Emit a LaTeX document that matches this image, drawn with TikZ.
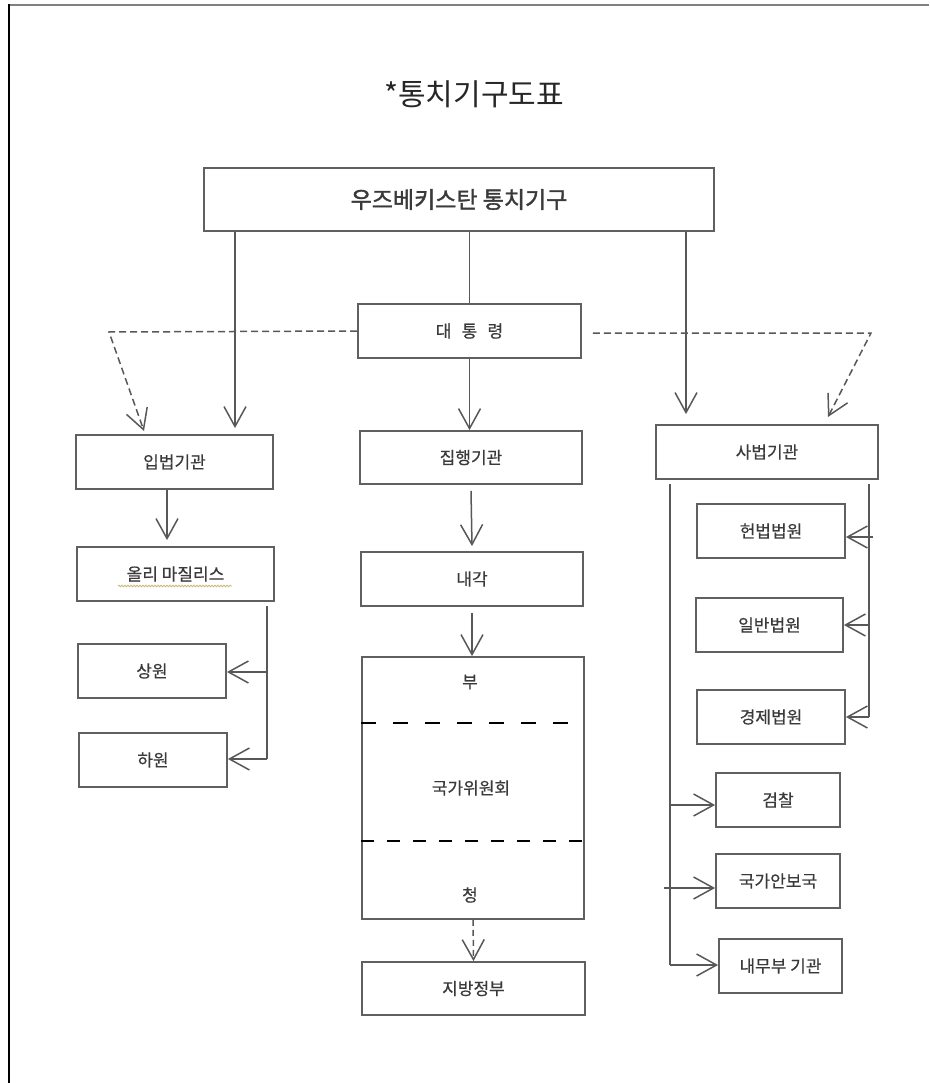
\documentclass[tikz,border=0pt]{standalone}
\usepackage{fontspec}
\setmainfont{Noto Sans CJK KR}
\newfontfamily\krbold[FakeBold=1.6]{Noto Sans CJK KR}
\newfontfamily\krbody[FakeBold=0.5]{Noto Sans CJK KR}
\newfontfamily\krtitle{Noto Sans CJK KR}
\usetikzlibrary{arrows.meta,decorations.pathmorphing}
\definecolor{boxgray}{HTML}{606060}
\definecolor{linegray}{HTML}{585858}
\definecolor{txtgray}{HTML}{3A3A3A}
\definecolor{framegray}{HTML}{808080}
\definecolor{squiggle}{HTML}{C9B878}
\tikzset{
  box/.style={draw=boxgray, line width=1.8pt, fill=white, inner sep=0pt,
    font=\krbody\fontsize{17}{19}\selectfont, text=txtgray},
  lbl/.style={inner sep=0pt, font=\krbody\fontsize{17}{19}\selectfont, text=txtgray},
  conn/.style={draw=linegray, line width=1.5pt},
  arr/.style={conn, -{Straight Barb[length=20pt,width=22pt]}},
  darr/.style={arr, dash pattern=on 7pt off 4pt},
  innerdash/.style={draw=black, line width=1.4pt, dash pattern=on 15pt off 17pt},
}
\begin{document}
\begin{tikzpicture}[x=1pt,y=-1pt]
\useasboundingbox (0,0) rectangle (929,1083);
% frame
\draw[framegray, line width=2pt] (9,5) -- (929,5);
\draw[black, line width=1.5pt] (9,4) -- (9,1083);
% title
\node[inner sep=0pt, font=\krtitle\fontsize{30}{33}\selectfont, text=black!85] (title) at (474,94) {*통치기구도표};
% boxes
\node[box, minimum width=510, minimum height=63, font=\krbold\fontsize{23}{25}\selectfont] (top) at (459,199.5) {우즈베키스탄 통치기구};
\node[box, minimum width=223, minimum height=54] (pres) at (469.5,331) {대\hspace{0.6em}통\hspace{0.6em}령};
\node[box, minimum width=197, minimum height=54] (leg) at (174.5,462) {입법기관};
\node[box, minimum width=222, minimum height=53] (exe) at (471,457.5) {집행기관};
\node[box, minimum width=222, minimum height=54] (jud) at (767,452) {사법기관};
\node[box, minimum width=197, minimum height=54] (olij) at (175.5,574) {올리 마질리스};
\node[box, minimum width=148, minimum height=54] (sen) at (152,671) {상원};
\node[box, minimum width=148, minimum height=54] (low) at (153,760) {하원};
\node[box, minimum width=222, minimum height=54] (cab) at (472,579) {내각};
\node[box, minimum width=222, minimum height=262] (big) at (473,788) {};
\node[lbl] (bu) at (470,682) {부};
\node[lbl] (comm) at (471,788) {국가위원회};
\node[lbl] (cheong) at (470,895) {청};
\node[box, minimum width=223, minimum height=53] (loc) at (473.5,988.5) {지방정부};
\node[box, minimum width=148, minimum height=54] (const) at (771,531) {헌법법원};
\node[box, minimum width=147, minimum height=54] (gen) at (769.5,625) {일반법원};
\node[box, minimum width=148, minimum height=54] (econ) at (771,717) {경제법원};
\node[box, minimum width=124, minimum height=54] (pros) at (778,800) {검찰};
\node[box, minimum width=124, minimum height=54] (sec) at (778,881) {국가안보국};
\node[box, minimum width=123, minimum height=54] (inter) at (780.5,966) {내무부 기관};
% spell-check squiggle under 올리 마질리스
\coordinate (sqA) at (118,586);
\coordinate (sqB) at (232,586);
\draw[squiggle, line width=0.8pt, decorate, decoration={snake, amplitude=0.8pt, segment length=3pt}] (sqA) -- (sqB);
% inner dashed separators of the big box
\coordinate (d1) at (0,723);
\coordinate (d2) at (0,841);
\draw[innerdash] (big.west |- d1) -- (big.east |- d1);
\draw[innerdash, dash pattern=on 13pt off 13pt] (big.west |- d2) -- (big.east |- d2);
% helper columns
\coordinate (xL) at (235,0);
\coordinate (xR) at (686,0);
\coordinate (xO) at (167,0);
\coordinate (vL) at (267,0);
\coordinate (jL) at (670,0);
\coordinate (jR) at (869,0);
% top box connectors
\draw[arr] (top.south -| xL) -- ([yshift=6pt]leg.north -| xL);
\draw[conn] (top.south -| pres.north) -- (pres.north);
\draw[arr] (top.south -| xR) -- ([yshift=10pt]jud.north -| xR);
% president
\draw[arr] (pres.south) -- (pres.south |- exe.north);
\coordinate (cL) at (109,332);
\coordinate (tL) at (144,431);
\coordinate (cR) at (871,333);
\coordinate (tR) at (828,417);
\draw[darr] (pres.west) -- (cL) -- (tL);
\draw[darr] ([xshift=11pt,yshift=-2pt]pres.east) -- (cR) -- (tR);
% legislature
\draw[arr] (leg.south -| xO) -- ([yshift=6pt]olij.north -| xO);
\draw[conn] ([yshift=-4pt]olij.south -| vL) -- ([yshift=1pt]low.east -| vL);
\draw[arr] ([yshift=-1pt]sen.east -| vL) -- ([yshift=-1pt]sen.east);
\draw[arr] ([yshift=1pt]low.east -| vL) -- ([yshift=1pt]low.east);
% executive
\draw[arr] ([yshift=-6pt]exe.south) -- ([yshift=5pt]cab.north);
\draw[arr] ([yshift=-6pt]cab.south) -- (cab.south |- big.north);
\draw[arr, dash pattern=on 6pt off 4pt] (big.south) -- (loc.north);
% judiciary
\draw[conn] ([yshift=-4pt]jud.south -| jR) -- (econ.east -| jR);
\draw[arr] ([xshift=4pt,yshift=-6pt]const.east -| jR) -- ([yshift=-6pt]const.east);
\draw[arr] (gen.east -| jR) -- (gen.east);
\draw[arr] (econ.east -| jR) -- (econ.east);
\draw[conn] ([yshift=-4pt]jud.south -| jL) -- ([yshift=1pt]inter.west -| jL);
\draw[arr] ([yshift=-5pt]pros.west -| jL) -- ([yshift=-5pt]pros.west);
\draw[arr] ([xshift=-6pt,yshift=-7pt]sec.west -| jL) -- ([yshift=-7pt]sec.west);
\draw[arr] ([yshift=1pt]inter.west -| jL) -- ([yshift=1pt]inter.west);
\end{tikzpicture}
\end{document}
